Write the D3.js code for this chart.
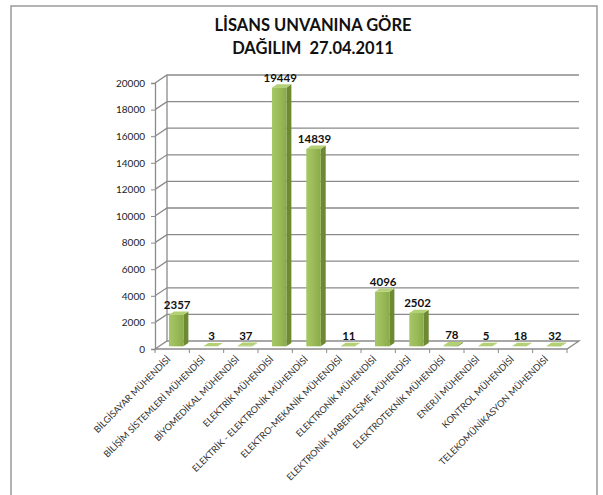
<!DOCTYPE html>
<html><head><meta charset="utf-8">
<script src="https://cdnjs.cloudflare.com/ajax/libs/d3/7.8.5/d3.min.js"></script>
<style>body{margin:0;background:#fff;}svg{display:block;font-family:Lato,"Open Sans",sans-serif;}</style>
</head><body>
<script>
const categories = ["BİLGİSAYAR MÜHENDİSİ","BİLİŞİM SİSTEMLERİ MÜHENDİSİ","BİYOMEDİKAL MÜHENDİSİ","ELEKTRİK MÜHENDİSİ","ELEKTRİK - ELEKTRONİK MÜHENDİSİ","ELEKTRO-MEKANİK MÜHENDİSİ","ELEKTRONİK MÜHENDİSİ","ELEKTRONİK HABERLEŞME MÜHENDİSİ","ELEKTROTEKNİK MÜHENDİSİ","ENERJİ MÜHENDİSİ","KONTROL MÜHENDİSİ","TELEKOMÜNİKASYON MÜHENDİSİ"];
const values = [2357,3,37,19449,14839,11,4096,2502,78,5,18,32];
const yTicks = [0,2000,4000,6000,8000,10000,12000,14000,16000,18000,20000];
const titleLines = ["LİSANS UNVANINA GÖRE","DAĞILIM  27.04.2011"];

const W=603,H=495;
const svg=d3.select("body").append("svg").attr("width",W).attr("height",H);
svg.append("rect").attr("x",11).attr("y",6).attr("width",586).attr("height",H).attr("fill","none").attr("stroke","#9a9a9a").attr("stroke-width",1.5);

const DX=12, DY=-8;
const x=d3.scaleBand().domain(categories).range([155,567]);
const y=d3.scaleLinear().domain([0,20000]).range([349,83]);
const grid="#8a8a8a";
const g=svg.append("g");
yTicks.forEach(t=>{
  const yy=y(t);
  if(t>0){
    g.append("path").attr("d",`M155,${yy}L${155+DX},${yy+DY}L${567+DX},${yy+DY}`).attr("fill","none").attr("stroke",grid).attr("stroke-width",1.3);
  }
});
g.append("path").attr("d",`M155,${y(0)}L567,${y(0)}L${567+DX},${y(0)+DY}L${155+DX},${y(0)+DY}Z`).attr("fill","none").attr("stroke",grid).attr("stroke-width",1.3);
g.append("line").attr("x1",155+DX).attr("x2",155+DX).attr("y1",y(0)+DY).attr("y2",y(20000)+DY).attr("stroke",grid).attr("stroke-width",1.3);
const ax=svg.append("g").attr("transform","translate(155,0)").call(d3.axisLeft(y).tickValues(yTicks).tickSize(4).tickPadding(6).tickFormat(d3.format("d")));
ax.select(".domain").attr("stroke",grid).attr("stroke-width",1.3);
ax.selectAll(".tick line").attr("stroke",grid);
ax.selectAll("text").attr("font-size",10).attr("fill","#222").attr("font-family","Lato");
categories.forEach((c,i)=>{
  const xx=x(c);
  g.append("line").attr("x1",xx).attr("x2",xx).attr("y1",y(0)).attr("y2",y(0)+4).attr("stroke",grid);
});
g.append("line").attr("x1",567).attr("x2",567).attr("y1",y(0)).attr("y2",y(0)+4).attr("stroke",grid);

const bw=x.bandwidth()*0.42;
const fx=DX/3, fy=DY/3;
const sx=5, sy=-3.4;
const defs=svg.append("defs");
const gr=defs.append("linearGradient").attr("id","gf").attr("x1","0").attr("x2","1");
gr.append("stop").attr("offset","0").attr("stop-color","#a6c765");
gr.append("stop").attr("offset","0.5").attr("stop-color","#9bbb59");
gr.append("stop").attr("offset","1").attr("stop-color","#8aab4a");
const bars=svg.append("g").selectAll("g").data(values).join("g");
bars.each(function(v,i){
  const c=categories[i];
  const x0=x(c)+x.bandwidth()/2-bw/2+fx;
  const x1=x0+bw;
  const yb=y(0)+fy, yt=y(v)+fy;
  const s=d3.select(this);
  s.append("path").attr("d",`M${x1},${yb}L${x1+sx},${yb+sy}L${x1+sx},${yt+sy}L${x1},${yt}Z`).attr("fill","#6d8a33");
  s.append("path").attr("d",`M${x0},${yt}L${x0+sx},${yt+sy}L${x1+sx},${yt+sy}L${x1},${yt}Z`).attr("fill","#b3d174");
  s.append("rect").attr("x",x0).attr("y",yt).attr("width",bw).attr("height",Math.max(0,yb-yt)).attr("fill","url(#gf)");
  s.append("text").attr("x",(x0+x1)/2+1).attr("y",yt-6).attr("text-anchor","middle")
    .attr("font-size",11.5).attr("font-weight","bold").attr("fill","#111").text(v);
});
svg.append("g").selectAll("text").data(categories).join("text")
  .attr("transform",d=>`translate(${x(d)+x.bandwidth()/2-1},${y(0)+11}) rotate(-45)`)
  .attr("text-anchor","end").attr("font-size",9.2).attr("fill","#333").text(d=>d);
svg.append("g").selectAll("text").data(titleLines).join("text")
  .attr("x",313).attr("y",(d,i)=>31+i*23).attr("text-anchor","middle").style("white-space","pre")
  .attr("font-size",16.5).attr("font-weight","bold").attr("fill","#111").text(d=>d);
</script>
</body></html>
